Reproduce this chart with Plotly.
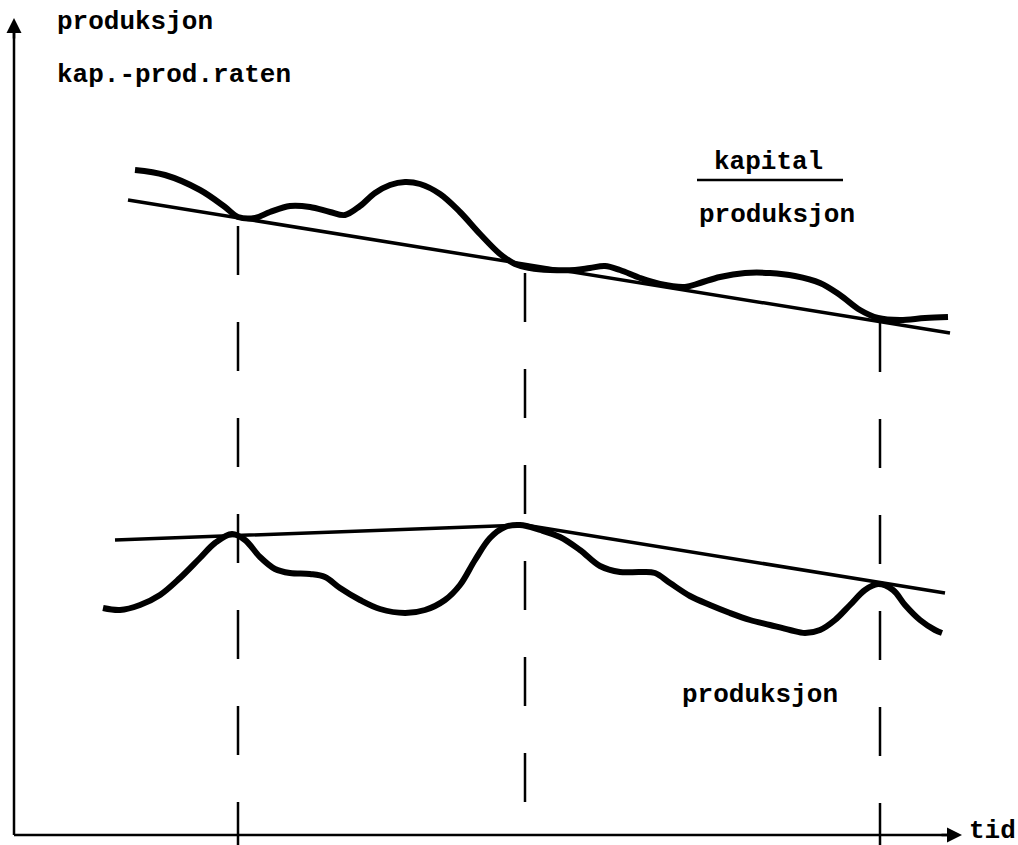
import plotly.graph_objects as go

# Upper curve: kapital / produksjon (kap.-prod.raten)
kp_x = [135, 165, 200, 225, 238, 255, 270, 290, 310, 330, 345, 360, 375, 390, 405, 420, 440, 460, 480, 500, 515, 530, 550, 575, 590, 605, 620, 640, 660, 685, 700, 720, 745, 770, 795, 820, 840, 860, 878, 900, 925, 948]
kp_y = [170, 175, 190, 207, 217, 218, 212, 206, 207, 212, 215, 206, 193, 185, 182, 184, 194, 212, 234, 254, 264, 268, 270, 270, 268, 266, 270, 278, 284, 287, 283, 277, 273, 273, 276, 283, 295, 310, 318, 320, 318, 317]
kp_trend_x = [128, 950]
kp_trend_y = [200, 333]

# Lower curve: produksjon
pr_x = [103, 120, 140, 160, 180, 200, 215, 232, 245, 260, 275, 290, 310, 325, 340, 360, 380, 405, 425, 445, 460, 475, 490, 505, 520, 540, 560, 580, 600, 620, 640, 655, 670, 690, 710, 730, 750, 770, 790, 805, 820, 835, 850, 865, 878, 893, 905, 920, 935, 942]
pr_y = [608, 610, 605, 595, 578, 558, 543, 534, 540, 557, 569, 573, 574, 577, 588, 600, 609, 613, 610, 600, 585, 560, 538, 527, 525, 530, 537, 550, 566, 572, 572, 573, 583, 596, 605, 613, 620, 625, 630, 633, 630, 620, 605, 590, 584, 590, 605, 620, 630, 633]
pr_trend_x = [115, 525, 945]
pr_trend_y = [540, 525, 593]

# Turning points (dashed verticals)
turn_x = [238, 525, 880]
turn_top = [226, 273, 323]

FONT = "Liberation Mono"

fig = go.Figure()
fig.add_trace(go.Scatter(x=kp_x, y=kp_y, mode="lines", line=dict(color="black", width=6, shape="spline", smoothing=1.0), hoverinfo="skip"))
fig.add_trace(go.Scatter(x=kp_trend_x, y=kp_trend_y, mode="lines", line=dict(color="black", width=3.5), hoverinfo="skip"))
fig.add_trace(go.Scatter(x=pr_x, y=pr_y, mode="lines", line=dict(color="black", width=6, shape="spline", smoothing=1.0), hoverinfo="skip"))
fig.add_trace(go.Scatter(x=pr_trend_x, y=pr_trend_y, mode="lines", line=dict(color="black", width=3.5), hoverinfo="skip"))

shapes = []
for tx, tt in zip(turn_x, turn_top):
    shapes.append(dict(type="line", x0=tx, x1=tx, y0=tt, y1=845, xref="x", yref="y",
                       line=dict(color="black", width=2.5, dash="49px,47px")))
# axes
shapes.append(dict(type="line", x0=14, x1=14, y0=30, y1=835, xref="x", yref="y", line=dict(color="black", width=2.5)))
shapes.append(dict(type="line", x0=14, x1=950, y0=835, y1=835, xref="x", yref="y", line=dict(color="black", width=2.5)))
# underline under "kapital"
shapes.append(dict(type="line", x0=697, x1=843, y0=180, y1=180, xref="x", yref="y", line=dict(color="black", width=2.5)))

annotations = [
    dict(x=14, y=18, ax=14, ay=40, xref="x", yref="y", axref="x", ayref="y", showarrow=True, arrowhead=2, arrowsize=1.2, arrowwidth=2.5, arrowcolor="black", text=""),
    dict(x=962, y=835, ax=940, ay=835, xref="x", yref="y", axref="x", ayref="y", showarrow=True, arrowhead=2, arrowsize=1.2, arrowwidth=2.5, arrowcolor="black", text=""),
    dict(x=55, y=22, text="produksjon", xanchor="left", yanchor="middle"),
    dict(x=55, y=75, text="kap.-prod.raten", xanchor="left", yanchor="middle"),
    dict(x=768, y=162, text="kapital", xanchor="center", yanchor="middle"),
    dict(x=697, y=215, text="produksjon", xanchor="left", yanchor="middle"),
    dict(x=680, y=695, text="produksjon", xanchor="left", yanchor="middle"),
    dict(x=967, y=831, text="tid", xanchor="left", yanchor="middle"),
]
for a in annotations:
    a.setdefault("xref", "x")
    a.setdefault("yref", "y")
    if a.get("text"):
        a["showarrow"] = False
        a["font"] = dict(family=FONT, size=26, color="black", weight="bold")

fig.update_layout(
    width=1018, height=845,
    margin=dict(l=0, r=0, t=0, b=0),
    paper_bgcolor="white", plot_bgcolor="white",
    showlegend=False,
    xaxis=dict(range=[0, 1018], visible=False, fixedrange=True),
    yaxis=dict(range=[845, 0], visible=False, fixedrange=True),
    shapes=shapes,
    annotations=annotations,
)
fig.write_html(
    "out.html",
    config={"displayModeBar": False, "staticPlot": True},
    post_script="document.body.style.margin='0px';document.body.style.overflow='hidden';",
)
